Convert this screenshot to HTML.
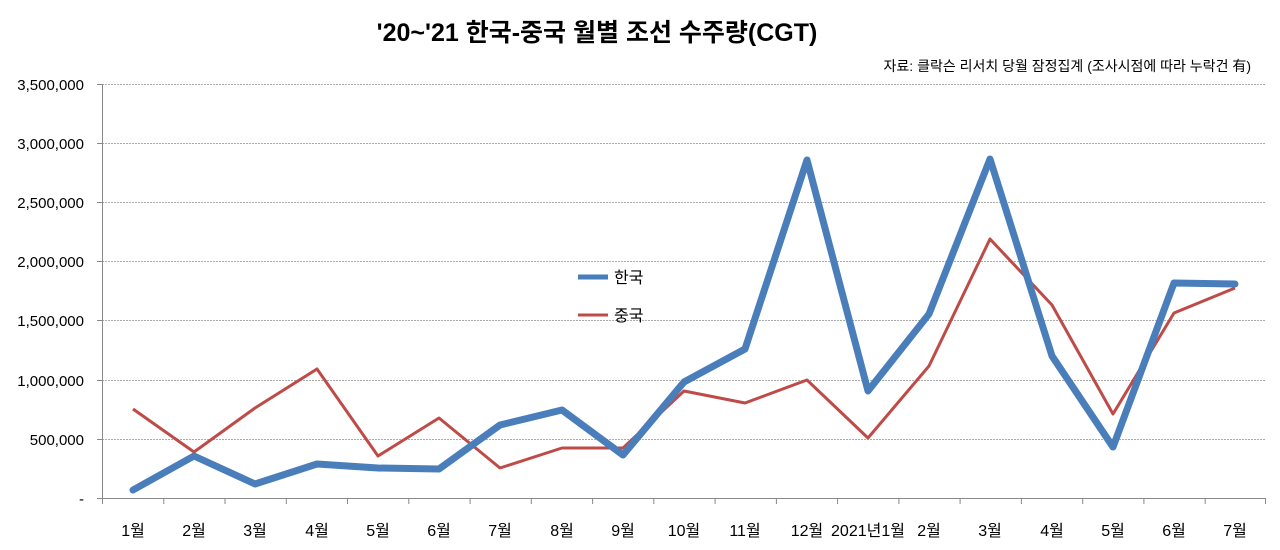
<!DOCTYPE html>
<html><head><meta charset="utf-8"><style>
body{margin:0;background:#fff;}
svg text{font-family:"Liberation Sans","Noto Sans CJK KR",sans-serif;fill:#000;}
</style></head><body>
<svg width="1280" height="545" viewBox="0 0 1280 545" xmlns="http://www.w3.org/2000/svg">
<rect width="1280" height="545" fill="#fff"/>
<text x="597" y="41" font-size="25" font-weight="bold" text-anchor="middle">'20~'21 한국-중국 월별 조선 수주량(CGT)</text>
<text x="1251" y="71" font-size="14" text-anchor="end">자료: 클락슨 리서치 당월 잠정집계 (조사시점에 따라 누락건 有)</text>
<g stroke="#aaa" stroke-width="1" stroke-dasharray="2,1">
<line x1="102" y1="84.5" x2="1266" y2="84.5"/>
<line x1="102" y1="143.5" x2="1266" y2="143.5"/>
<line x1="102" y1="202.5" x2="1266" y2="202.5"/>
<line x1="102" y1="261.5" x2="1266" y2="261.5"/>
<line x1="102" y1="320.5" x2="1266" y2="320.5"/>
<line x1="102" y1="380.5" x2="1266" y2="380.5"/>
<line x1="102" y1="439.5" x2="1266" y2="439.5"/>
</g>
<g stroke="#888" stroke-width="1">
<line x1="102.5" y1="84" x2="102.5" y2="499"/>
<line x1="97" y1="498.5" x2="1266" y2="498.5"/>
<line x1="97" y1="84.5" x2="102" y2="84.5"/><line x1="97" y1="143.5" x2="102" y2="143.5"/><line x1="97" y1="202.5" x2="102" y2="202.5"/><line x1="97" y1="261.5" x2="102" y2="261.5"/><line x1="97" y1="320.5" x2="102" y2="320.5"/><line x1="97" y1="380.5" x2="102" y2="380.5"/><line x1="97" y1="439.5" x2="102" y2="439.5"/>
<path d="M102.5 499v5M163.8 499v5M225 499v5M286.3 499v5M347.5 499v5M408.8 499v5M470.1 499v5M531.3 499v5M592.6 499v5M653.8 499v5M715.1 499v5M776.4 499v5M837.6 499v5M898.9 499v5M960.1 499v5M1021.4 499v5M1082.7 499v5M1143.9 499v5M1205.2 499v5M1265.5 499v5"/>
</g>
<g font-size="15" text-anchor="end">
<text x="84" y="90">3,500,000</text><text x="84" y="149">3,000,000</text><text x="84" y="208">2,500,000</text><text x="84" y="267">2,000,000</text><text x="84" y="326">1,500,000</text><text x="84" y="386">1,000,000</text><text x="84" y="445">500,000</text><text x="84" y="504">-</text>
</g>
<g font-size="16" text-anchor="middle">
<text x="133" y="536">1월</text><text x="194" y="536">2월</text><text x="255" y="536">3월</text><text x="317" y="536">4월</text><text x="378" y="536">5월</text><text x="439" y="536">6월</text><text x="500" y="536">7월</text><text x="562" y="536">8월</text><text x="623" y="536">9월</text><text x="684" y="536">10월</text><text x="745" y="536">11월</text><text x="807" y="536">12월</text><text x="868" y="536">2021년1월</text><text x="929" y="536">2월</text><text x="990" y="536">3월</text><text x="1052" y="536">4월</text><text x="1113" y="536">5월</text><text x="1174" y="536">6월</text><text x="1235" y="536">7월</text>
</g>
<polyline fill="none" stroke="#BE4B48" stroke-width="3" stroke-linejoin="round" points="133,409 194,452 255,408 317,369 378,456 439,418 500,468 562,448 623,448 684,391 745,403 807,380 868,438 929,366 990,239 1052,305 1113,414 1174,313 1235,288"/>
<polyline fill="none" stroke="#4A7EBB" stroke-width="7" stroke-linejoin="round" stroke-linecap="round" points="133,490 194,456 255,484 317,464 378,468 439,469 500,425 562,410 623,455 684,382 745,349 807,160 868,391 929,314 990,159 1052,356 1113,447 1174,283 1235,284"/>
<line x1="578" y1="277" x2="608" y2="277" stroke="#4A7EBB" stroke-width="5"/>
<text x="614" y="283" font-size="16">한국</text>
<line x1="578" y1="315" x2="608" y2="315" stroke="#BE4B48" stroke-width="3"/>
<text x="614" y="321" font-size="16">중국</text>
</svg>
</body></html>
